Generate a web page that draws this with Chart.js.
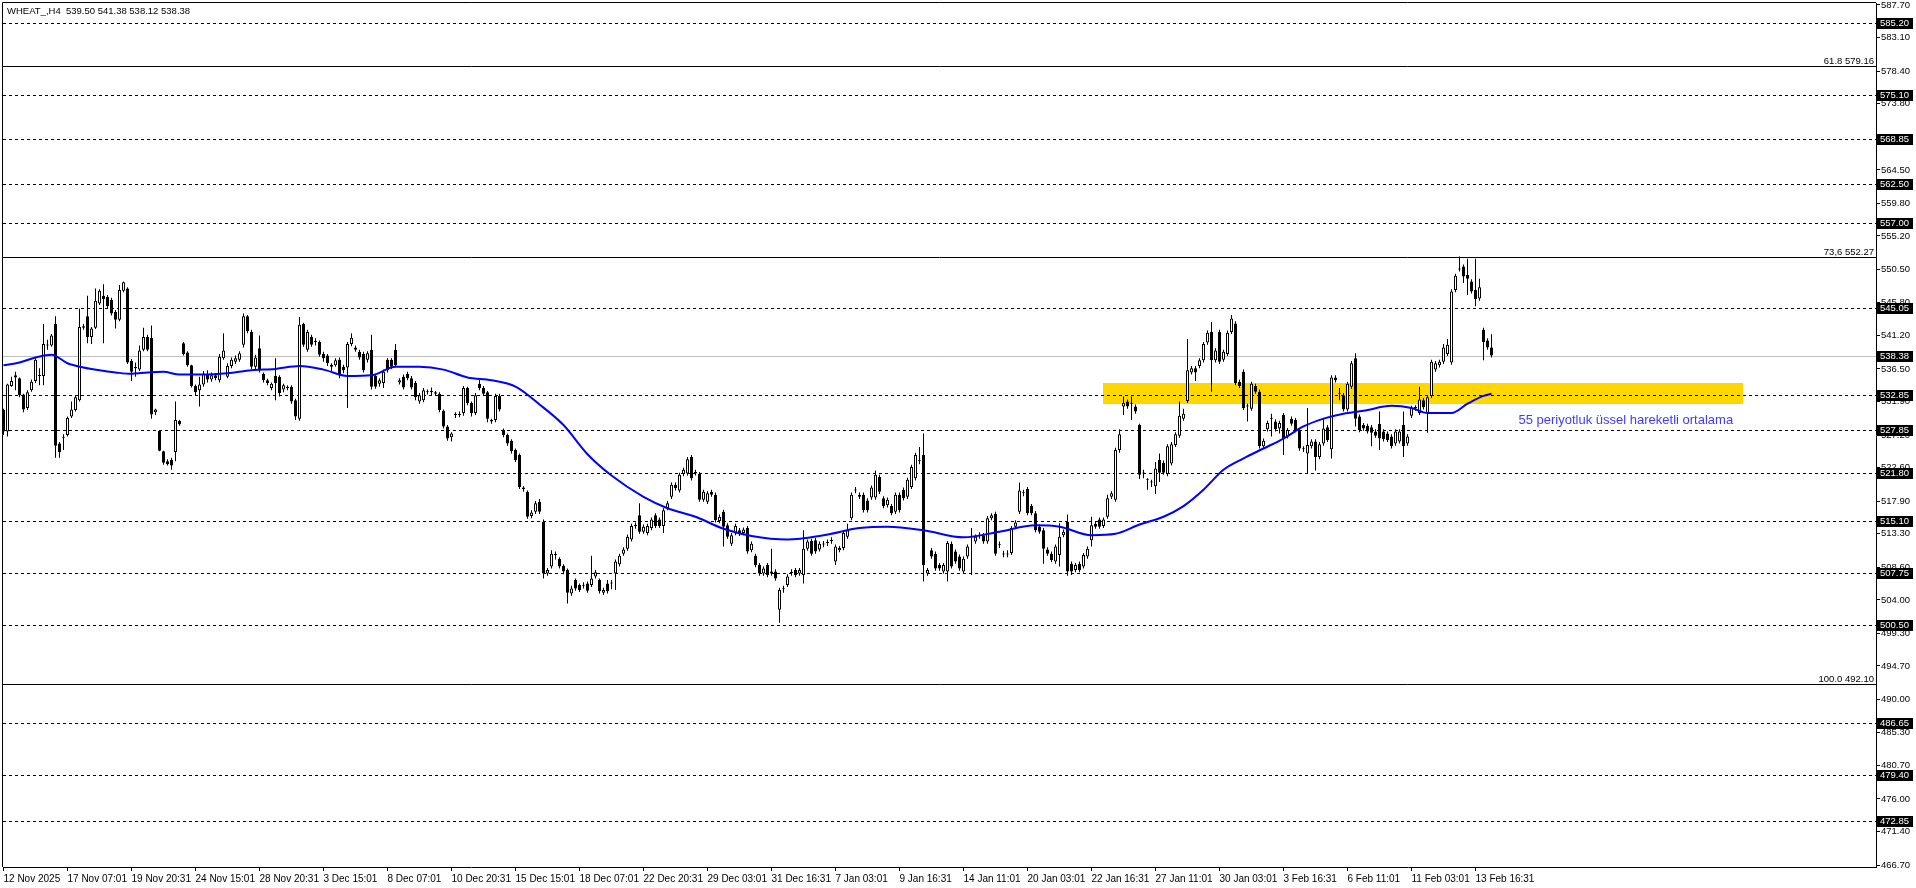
<!DOCTYPE html>
<html>
<head>
<meta charset="utf-8">
<title>WHEAT_,H4</title>
<script src="https://cdn.jsdelivr.net/npm/chart.js@4.4.1/dist/chart.umd.min.js"></script>
<style>
  html, body { margin: 0; padding: 0; background: #fff; }
  canvas { display: block; }
</style>
</head>
<body>
<canvas id="wheatChart" width="1916" height="888"></canvas>
<script>
// DATA

const symbol = 'WHEAT_,H4';

const timeLabels = ['12 Nov 2025', '17 Nov 07:01', '19 Nov 20:31', '24 Nov 15:01', '28 Nov 20:31',
    '3 Dec 15:01', '8 Dec 07:01', '10 Dec 20:31', '15 Dec 15:01', '18 Dec 07:01', '22 Dec 20:31',
    '29 Dec 03:01', '31 Dec 16:31', '7 Jan 03:01', '9 Jan 16:31', '14 Jan 11:01', '20 Jan 03:01',
    '22 Jan 16:31', '27 Jan 11:01', '30 Jan 03:01', '3 Feb 16:31', '6 Feb 11:01', '11 Feb 03:01',
    '13 Feb 16:31'];
const barsPerLabel = 16;

const opens = [
    530.7, 527.7, 534.1, 535.6, 535.2, 532.9, 531.0, 533.5, 534.8, 535.5,
    535.5, 539.9, 539.8, 542.8, 526.0, 526.8, 527.2, 529.8, 530.7, 532.1,
    542.3, 543.9, 541.0, 542.3, 545.7, 546.8, 546.6, 546.2, 544.5, 543.4,
    547.5, 547.8, 537.6, 536.8, 536.4, 539.2, 541.0, 540.9, 530.4, 527.8,
    524.9, 523.5, 523.7, 524.8, 529.2, 540.1, 538.8, 537.0, 534.1, 533.5,
    534.3, 535.8, 535.0, 535.6, 534.9, 538.0, 535.4, 536.9, 537.5, 537.8,
    539.9, 543.9, 541.7, 536.8, 539.4, 535.8, 534.9, 533.8, 535.5, 535.4,
    533.6, 534.0, 534.0, 532.1, 529.5, 542.8, 539.2, 541.0, 540.4, 540.3,
    538.6, 538.4, 537.1, 537.0, 537.8, 536.8, 536.7, 540.0, 539.5, 538.9,
    538.6, 537.8, 539.2, 535.5, 534.4, 534.5, 537.8, 537.8, 539.2, 534.6,
    535.4, 535.8, 535.2, 534.5, 531.9, 532.1, 533.3, 533.2, 533.2, 533.0,
    530.6, 528.4, 526.9, 530.0, 530.0, 530.3, 533.8, 531.7, 530.3, 534.4,
    533.8, 533.2, 529.3, 529.3, 532.7, 527.9, 527.2, 526.4, 525.1, 524.4,
    519.8, 519.2, 515.8, 516.4, 517.8, 515.0, 507.7, 508.7, 510.3, 509.8,
    508.8, 508.2, 504.9, 506.8, 506.1, 506.1, 506.3, 506.1, 507.3, 506.8,
    505.0, 506.3, 506.3, 507.7, 509.0, 510.5, 511.2, 512.5, 514.4, 515.9,
    513.6, 513.4, 514.1, 515.9, 515.3, 514.4, 516.9, 518.5, 520.2, 519.4,
    521.7, 521.8, 524.1, 521.8, 521.7, 518.1, 517.8, 519.2, 518.8, 515.1,
    516.4, 514.5, 511.9, 513.4, 513.8, 513.4, 514.1, 511.0, 510.2, 508.9,
    507.7, 508.9, 508.0, 508.0, 502.6, 505.5, 506.1, 507.8, 508.2, 507.7,
    507.5, 511.2, 512.3, 512.4, 511.1, 511.9, 512.0, 512.3, 509.4, 511.0,
    511.3, 512.9, 515.5, 519.4, 518.5, 518.8, 518.0, 518.4, 518.4, 521.3,
    518.3, 517.3, 517.2, 516.4, 518.8, 519.5, 518.5, 519.9, 521.1, 523.5,
    524.4, 507.7, 511.0, 510.5, 508.9, 508.0, 508.0, 511.9, 510.8, 510.1,
    508.0, 510.1, 513.0, 512.2, 513.0, 513.1, 512.2, 515.5, 516.1, 511.7,
    510.5, 510.4, 510.6, 514.3, 516.4, 519.0, 519.6, 517.2, 516.2, 514.3,
    513.8, 511.1, 510.5, 509.4, 510.3, 513.1, 515.0, 509.1, 508.2, 509.1,
    508.7, 510.1, 512.4, 514.7, 515.3, 514.4, 515.7, 518.5, 518.1, 525.1,
    531.2, 531.9, 531.7, 531.2, 528.6, 521.8, 520.9, 520.5, 520.0, 523.7,
    523.3, 521.7, 523.2, 525.8, 527.1, 529.5, 532.0, 536.0, 536.6, 536.9,
    537.7, 540.2, 541.7, 537.7, 541.7, 537.8, 538.6, 541.7, 542.9, 534.7,
    536.1, 531.2, 530.9, 534.1, 533.3, 525.6, 528.0, 529.5, 529.1, 528.1,
    530.0, 527.0, 529.5, 529.3, 527.9, 525.2, 524.6, 525.6, 526.3, 524.1,
    526.0, 528.3, 525.2, 535.3, 533.0, 532.8, 530.8, 534.0, 538.0, 529.8,
    528.6, 528.5, 528.3, 527.7, 528.8, 527.7, 527.4, 527.0, 526.0, 526.3,
    528.6, 526.0, 529.9, 531.0, 530.3, 532.1, 530.3, 532.7, 536.4, 537.0,
    537.5, 538.6, 537.4, 547.6, 550.5, 550.9, 549.7, 548.8, 547.6, 546.4,
    542.0, 540.5, 539.50
];

const highs = [
    530.9, 534.4, 535.4, 536.1, 535.3, 533.0, 533.5, 535.0, 538.0, 536.6,
    542.8, 540.6, 541.4, 543.9, 526.2, 527.3, 529.8, 531.9, 532.8, 545.0,
    542.8, 546.8, 542.4, 547.8, 547.7, 548.4, 546.9, 546.5, 544.8, 548.3,
    548.8, 548.0, 537.9, 537.4, 539.8, 542.3, 541.3, 542.6, 530.9, 527.8,
    525.0, 523.8, 524.0, 531.9, 529.3, 540.3, 539.0, 537.1, 534.3, 535.4,
    536.2, 536.3, 536.0, 535.9, 538.6, 541.5, 537.3, 538.1, 538.4, 539.0,
    544.3, 544.1, 542.0, 538.5, 541.2, 536.0, 535.1, 534.6, 538.0, 535.6,
    534.4, 534.2, 534.2, 532.3, 543.8, 543.0, 542.0, 541.3, 540.8, 540.5,
    538.9, 538.6, 537.3, 538.0, 538.1, 537.1, 540.3, 541.5, 539.8, 539.2,
    538.9, 539.0, 541.3, 535.8, 535.2, 536.4, 538.0, 538.0, 540.0, 535.2,
    535.7, 536.1, 535.5, 534.8, 533.1, 533.8, 533.6, 533.9, 533.4, 533.2,
    530.8, 528.6, 527.6, 530.4, 530.5, 534.1, 534.0, 531.9, 533.1, 535.0,
    534.1, 533.4, 529.5, 533.0, 533.0, 528.1, 527.4, 526.6, 525.3, 524.6,
    520.0, 519.4, 516.6, 517.9, 518.2, 515.3, 508.5, 511.0, 510.8, 510.0,
    509.0, 508.4, 506.0, 507.0, 506.3, 506.5, 506.6, 510.2, 508.2, 507.0,
    505.7, 506.8, 506.8, 509.7, 510.5, 511.4, 513.2, 514.7, 514.9, 517.6,
    514.6, 514.7, 515.6, 516.2, 515.6, 516.9, 517.9, 520.5, 520.5, 521.9,
    522.6, 524.1, 524.4, 522.3, 522.0, 519.5, 519.3, 519.5, 519.1, 516.0,
    516.7, 514.8, 513.4, 514.7, 514.1, 514.2, 514.4, 512.2, 510.5, 509.2,
    508.7, 509.2, 511.2, 508.3, 505.7, 506.0, 507.6, 508.3, 508.5, 508.5,
    513.8, 512.5, 512.6, 512.7, 512.2, 512.3, 512.5, 512.8, 511.8, 511.6,
    513.7, 514.7, 519.1, 519.9, 519.1, 519.1, 518.3, 520.1, 522.2, 521.6,
    518.6, 518.4, 517.5, 519.1, 519.1, 519.8, 521.2, 523.0, 524.7, 525.5,
    527.4, 508.5, 511.3, 510.8, 509.2, 509.2, 512.3, 512.2, 511.1, 510.4,
    510.1, 511.8, 514.1, 513.2, 513.5, 513.4, 515.8, 516.2, 516.4, 512.2,
    510.9, 511.0, 514.4, 515.2, 520.5, 519.5, 519.9, 517.5, 516.5, 514.6,
    514.1, 511.4, 510.8, 511.8, 514.8, 513.9, 516.0, 509.4, 509.2, 509.4,
    510.6, 511.5, 515.7, 515.0, 515.6, 515.6, 518.8, 519.3, 525.4, 528.0,
    532.6, 532.2, 532.6, 531.5, 528.8, 522.3, 521.1, 520.9, 523.4, 524.6,
    523.6, 525.9, 526.2, 527.6, 531.9, 530.9, 540.7, 536.9, 536.9, 538.0,
    540.3, 541.9, 543.1, 539.4, 542.0, 539.2, 541.9, 544.1, 543.2, 535.0,
    536.4, 531.6, 534.7, 534.4, 533.6, 526.7, 529.2, 530.2, 529.4, 529.2,
    530.3, 528.2, 529.8, 529.6, 528.2, 525.6, 531.0, 526.6, 526.6, 526.2,
    529.4, 528.6, 535.6, 535.6, 533.8, 533.1, 534.7, 537.6, 538.7, 530.1,
    528.9, 528.8, 528.6, 528.0, 530.5, 528.0, 527.7, 527.3, 528.0, 528.0,
    530.5, 527.3, 531.3, 531.4, 534.0, 532.4, 532.8, 537.8, 537.6, 537.8,
    540.0, 540.7, 547.7, 549.9, 552.3, 551.2, 552.0, 549.1, 552.0, 549.2,
    542.3, 540.8, 541.38
];

const lows = [
    527.2, 527.0, 534.0, 533.5, 532.5, 530.4, 530.7, 533.3, 534.5, 534.2,
    534.2, 539.2, 539.6, 524.0, 524.0, 525.1, 527.0, 529.6, 530.5, 531.9,
    542.0, 540.1, 540.0, 542.1, 545.5, 540.1, 545.0, 544.0, 542.2, 543.2,
    547.3, 537.2, 534.8, 535.4, 536.2, 539.0, 539.0, 529.5, 530.0, 524.9,
    523.0, 522.9, 522.3, 523.5, 528.5, 538.4, 536.8, 533.9, 532.7, 531.2,
    534.0, 534.6, 534.7, 534.9, 534.6, 537.8, 535.2, 536.6, 537.2, 537.5,
    539.5, 541.5, 536.5, 536.5, 536.0, 534.6, 534.2, 533.5, 532.1, 532.6,
    533.2, 533.5, 531.6, 529.3, 529.2, 539.6, 538.9, 539.6, 539.8, 538.2,
    537.5, 536.9, 536.2, 536.8, 535.2, 535.9, 531.0, 539.7, 538.9, 537.8,
    536.0, 537.4, 533.6, 533.7, 534.0, 533.8, 536.0, 536.5, 536.8, 534.3,
    533.6, 534.9, 533.6, 532.1, 531.6, 531.8, 532.9, 532.8, 532.7, 530.4,
    528.1, 526.4, 526.3, 529.6, 529.7, 529.9, 531.4, 529.8, 530.0, 533.5,
    532.7, 529.0, 528.8, 529.0, 530.5, 526.9, 525.7, 524.6, 523.4, 519.6,
    519.2, 515.4, 515.5, 516.1, 516.1, 507.0, 507.4, 508.4, 509.7, 508.4,
    507.6, 503.5, 504.6, 505.3, 505.1, 505.6, 505.0, 505.8, 507.0, 504.9,
    504.7, 504.9, 505.5, 505.4, 508.7, 510.2, 510.9, 512.2, 514.0, 513.3,
    513.3, 513.1, 513.8, 514.1, 514.1, 513.4, 516.6, 518.2, 519.4, 519.1,
    521.4, 521.5, 520.8, 521.5, 517.8, 517.8, 517.5, 518.5, 514.9, 514.8,
    511.5, 512.6, 511.6, 513.1, 513.0, 513.1, 510.5, 510.7, 508.6, 507.4,
    507.4, 507.2, 507.4, 506.7, 500.8, 505.0, 505.8, 507.4, 507.2, 507.4,
    506.3, 510.9, 510.2, 510.5, 510.8, 511.4, 511.6, 511.9, 508.9, 510.7,
    511.0, 512.6, 515.2, 519.0, 518.2, 516.3, 516.3, 518.1, 518.1, 518.9,
    516.9, 517.0, 515.9, 516.1, 516.3, 518.0, 518.2, 519.6, 520.8, 523.1,
    506.6, 507.4, 509.8, 508.1, 508.1, 507.7, 506.6, 508.4, 509.1, 508.1,
    507.7, 509.8, 507.5, 511.9, 512.6, 511.9, 511.9, 515.2, 510.2, 511.3,
    510.0, 510.0, 510.3, 514.0, 516.1, 518.6, 515.9, 515.9, 513.5, 513.3,
    509.1, 510.2, 509.3, 509.1, 508.7, 512.8, 507.4, 507.5, 507.9, 507.9,
    508.4, 509.8, 511.5, 514.0, 514.0, 514.1, 515.4, 518.2, 517.8, 524.7,
    530.0, 530.9, 529.3, 530.2, 521.0, 521.1, 519.5, 519.9, 518.9, 520.6,
    521.6, 521.4, 522.9, 525.5, 526.8, 529.2, 531.7, 535.7, 534.8, 536.6,
    537.4, 539.9, 533.3, 537.4, 537.2, 537.5, 538.3, 541.4, 534.2, 533.8,
    530.7, 529.1, 530.6, 533.0, 525.3, 525.3, 527.7, 527.0, 527.7, 527.4,
    524.4, 526.7, 528.5, 527.6, 525.0, 524.8, 521.8, 525.3, 522.2, 523.8,
    525.7, 526.2, 523.9, 534.6, 532.1, 530.5, 530.5, 533.7, 528.4, 527.6,
    527.8, 527.4, 525.6, 526.8, 525.1, 526.3, 526.2, 525.3, 525.7, 526.0,
    524.1, 525.7, 529.6, 530.6, 530.0, 530.8, 527.5, 532.4, 536.1, 536.7,
    537.2, 538.3, 537.1, 547.3, 550.2, 548.6, 546.9, 547.1, 545.3, 546.1,
    537.7, 539.2, 538.12
];

const closes = [
    527.7, 534.3, 534.8, 535.3, 532.8, 530.8, 533.2, 534.7, 537.8, 535.6,
    540.0, 539.8, 541.2, 525.7, 524.8, 526.8, 529.6, 530.8, 532.5, 542.4,
    542.5, 541.0, 542.2, 546.1, 547.5, 546.3, 545.3, 544.3, 543.4, 547.6,
    548.7, 537.4, 536.1, 536.6, 539.1, 541.0, 539.2, 530.1, 530.8, 525.0,
    523.3, 523.1, 522.9, 529.3, 528.7, 538.6, 537.0, 534.1, 533.2, 534.3,
    535.8, 535.0, 535.6, 535.2, 538.2, 539.1, 536.9, 537.8, 538.0, 538.7,
    543.9, 541.8, 536.8, 538.1, 536.3, 534.9, 534.5, 534.4, 534.5, 533.1,
    534.2, 533.8, 531.9, 529.8, 542.7, 539.9, 541.7, 539.9, 540.3, 538.5,
    538.0, 537.3, 536.8, 537.7, 535.6, 536.3, 540.0, 540.9, 539.2, 538.1,
    536.3, 538.7, 534.0, 534.0, 534.9, 536.1, 536.3, 536.8, 537.0, 534.9,
    533.9, 535.2, 533.9, 532.5, 532.8, 533.5, 533.2, 533.4, 533.0, 530.7,
    528.4, 526.7, 527.4, 530.1, 530.1, 533.8, 531.7, 530.3, 532.8, 533.8,
    533.0, 529.5, 529.1, 532.7, 530.8, 527.2, 526.0, 524.9, 523.7, 519.9,
    519.6, 515.7, 516.3, 517.6, 516.4, 507.7, 508.2, 510.5, 510.3, 508.7,
    508.0, 505.0, 505.6, 505.6, 505.4, 506.0, 505.3, 507.0, 507.9, 505.2,
    505.4, 505.2, 506.3, 509.4, 510.2, 511.1, 512.9, 514.4, 514.4, 513.6,
    514.3, 514.4, 515.3, 514.4, 514.4, 516.6, 517.6, 520.2, 519.7, 521.6,
    522.3, 523.8, 521.1, 522.0, 518.1, 519.2, 519.0, 518.8, 515.2, 515.7,
    514.3, 512.9, 513.1, 514.4, 513.3, 513.9, 510.8, 511.9, 508.9, 507.7,
    508.4, 507.5, 507.7, 507.0, 505.4, 505.5, 507.3, 507.8, 507.5, 508.2,
    511.2, 512.2, 510.5, 510.8, 511.9, 511.8, 512.0, 512.3, 511.5, 511.3,
    513.4, 513.8, 518.8, 519.4, 518.8, 516.6, 516.6, 519.8, 521.6, 519.2,
    517.2, 518.1, 516.2, 518.8, 516.6, 518.3, 520.9, 522.7, 524.4, 523.5,
    508.9, 508.2, 510.1, 508.4, 508.4, 508.9, 512.0, 508.7, 509.4, 508.4,
    509.8, 511.5, 512.9, 512.9, 513.0, 512.2, 515.5, 515.9, 510.5, 511.7,
    510.4, 510.5, 514.1, 514.9, 519.4, 519.0, 516.2, 516.2, 513.8, 513.6,
    511.2, 510.5, 509.6, 511.5, 512.9, 513.6, 508.0, 508.0, 508.9, 508.2,
    510.3, 511.2, 514.5, 514.3, 514.3, 515.3, 518.3, 519.0, 525.1, 527.3,
    531.7, 531.2, 531.6, 530.5, 521.6, 521.8, 520.9, 520.5, 522.5, 521.9,
    521.9, 525.6, 525.9, 527.3, 529.9, 530.2, 536.3, 536.6, 536.0, 537.7,
    540.0, 541.6, 537.7, 539.1, 537.5, 538.9, 541.6, 543.6, 534.5, 534.1,
    531.0, 531.2, 534.4, 533.3, 525.6, 526.4, 528.9, 529.5, 528.0, 528.9,
    526.7, 527.9, 528.8, 527.9, 525.3, 525.2, 525.8, 526.3, 524.1, 525.9,
    528.1, 526.5, 535.3, 534.9, 533.0, 530.8, 534.4, 537.3, 529.5, 527.9,
    528.1, 527.7, 527.5, 527.1, 526.7, 526.6, 526.5, 525.6, 527.7, 527.7,
    525.6, 527.0, 531.0, 531.0, 532.2, 531.1, 532.5, 537.5, 537.3, 537.5,
    539.5, 539.9, 547.4, 549.6, 550.5, 549.5, 549.2, 547.4, 546.3, 548.0,
    540.3, 539.5, 538.38
];

// 55 period EMA at these bars
const emaBars = [0, 4, 8, 12, 16, 20, 24, 28, 32, 36, 40, 44, 50, 56, 62, 68, 74, 80, 86, 92,
    98, 104, 110, 116, 122, 128, 134, 140, 146, 152, 160, 166, 173, 180, 187, 196, 205, 214, 221,
    230, 240, 249, 258, 264, 272, 278, 284, 290, 295, 300, 305, 310, 315, 320, 325, 330, 335, 340,
    347, 352, 356, 362, 366, 370, 372];
const emaValues = [537.0, 537.4, 538.1, 538.5, 537.3, 536.7, 536.3, 536.0, 535.8, 536.0, 536.1,
    535.7, 535.7, 535.9, 536.3, 536.5, 536.9, 536.4, 535.5, 535.6, 536.8, 536.8, 536.4, 535.3,
    534.9, 534.0, 531.5, 528.6, 524.5, 521.5, 518.5, 516.9, 515.7, 514.0, 513.0, 512.5, 513.1,
    514.1, 514.3, 513.8, 512.8, 513.6, 514.5, 514.3, 513.1, 513.3, 514.6, 515.7, 517.2, 519.5,
    522.3, 523.9, 525.3, 526.7, 528.4, 529.5, 530.2, 530.6, 531.3, 531.0, 530.3, 530.3, 531.6,
    532.7, 533.0];

const priceTicks = [587.70, 583.10, 578.40, 573.80, 569.10, 564.50, 559.80, 555.20, 550.50,
    545.80, 541.20, 536.50, 531.90, 527.20, 522.60, 517.90, 513.30, 508.60, 504.00, 499.30,
    494.70, 490.00, 485.30, 480.70, 476.00, 471.40, 466.70];

const levelLines = [585.20, 575.10, 568.85, 562.50, 557.00, 545.05, 532.85, 527.85, 521.80,
    515.10, 507.75, 500.50, 486.65, 479.40, 472.85];
const fibNames = ['61.8', '73,6', '100.0'];
const fibPrices = [579.16, 552.27, 492.10];
const lastPrice = 538.38;

const zoneBars = [274.9, 434.9];
const zonePrices = [531.6, 534.5];
const emaNote = '55 periyotluk üssel hareketli ortalama';
const emaNoteBar = 378.75;
const emaNotePrice = 529.3;

// DRAWING

const fontFamily = '"Liberation Sans", Arial, sans-serif';

function hLine(ctx, area, py) {
    ctx.beginPath();
    ctx.moveTo(area.left, py);
    ctx.lineTo(area.right, py);
    ctx.stroke();
}

const overlay = {
    id: 'overlay',
    beforeDatasetsDraw(chart) {
        const ctx = chart.ctx;
        const area = chart.chartArea;
        const x = chart.scales.x;
        const y = chart.scales.y;
        ctx.save();

        // yellow zone
        const zx1 = Math.round(x.getPixelForValue(zoneBars[0]));
        const zx2 = Math.round(x.getPixelForValue(zoneBars[1]));
        const zy1 = Math.round(y.getPixelForValue(zonePrices[1]));
        const zy2 = Math.round(y.getPixelForValue(zonePrices[0]));
        ctx.fillStyle = '#FFD700';
        ctx.fillRect(zx1, zy1, zx2 - zx1, zy2 - zy1);

        ctx.lineWidth = 1;

        // current price
        ctx.strokeStyle = '#C0C0C0';
        hLine(ctx, area, Math.round(y.getPixelForValue(lastPrice)) + 0.5);

        // dashed levels
        ctx.strokeStyle = '#000';
        ctx.setLineDash([3, 3]);
        levelLines.forEach(v => hLine(ctx, area, Math.round(y.getPixelForValue(v)) + 0.5));
        ctx.setLineDash([]);

        // fibo levels
        ctx.fillStyle = '#000';
        ctx.font = '9.5px ' + fontFamily;
        ctx.textAlign = 'right';
        ctx.textBaseline = 'alphabetic';
        fibPrices.forEach((v, k) => {
            const py = Math.round(y.getPixelForValue(v)) + 0.5;
            hLine(ctx, area, py);
            ctx.fillText(fibNames[k] + ' ' + v.toFixed(2), area.right - 2, py - 2.5);
        });

        ctx.restore();
    },
    afterDraw(chart) {
        const ctx = chart.ctx;
        const area = chart.chartArea;
        const x = chart.scales.x;
        const y = chart.scales.y;
        ctx.save();

        // frame
        ctx.strokeStyle = '#000';
        ctx.lineWidth = 1;
        ctx.beginPath();
        ctx.moveTo(area.left - 0.5, area.bottom);
        ctx.lineTo(area.left - 0.5, area.top - 0.5);
        ctx.lineTo(area.right, area.top - 0.5);
        ctx.stroke();

        // price tags on the axis
        ctx.font = '9.5px ' + fontFamily;
        ctx.textAlign = 'left';
        ctx.textBaseline = 'middle';
        levelLines.concat([lastPrice]).forEach(v => {
            const py = Math.round(y.getPixelForValue(v));
            ctx.fillStyle = '#000';
            ctx.fillRect(area.right + 1, py - 5, 36, 11);
            ctx.fillStyle = '#fff';
            ctx.fillText(v.toFixed(2), area.right + 4, py + 0.5);
        });

        // EMA note
        ctx.fillStyle = '#3c3cff';
        ctx.font = '13px ' + fontFamily;
        ctx.fillText(emaNote, x.getPixelForValue(emaNoteBar), y.getPixelForValue(emaNotePrice));

        // title
        const last = opens.length - 1;
        const ohlc = [opens[last], highs[last], lows[last], closes[last]].map(v => v.toFixed(2)).join(' ');
        ctx.fillStyle = '#000';
        ctx.font = '9.5px ' + fontFamily;
        ctx.textBaseline = 'top';
        ctx.fillText(symbol + '  ' + ohlc, 7, 7);

        ctx.restore();
    }
};

new Chart(document.getElementById('wheatChart'), {
    type: 'bar',
    data: {
        datasets: [
            {
                type: 'line',
                label: 'EMA 55',
                data: emaBars.map((b, k) => ({ x: b, y: emaValues[k] })),
                borderColor: '#0000FF',
                borderWidth: 2,
                pointRadius: 0,
                cubicInterpolationMode: 'monotone',
                order: 0
            },
            {
                label: 'body',
                data: opens.map((o, i) => ({ x: i, y: [o, closes[i]] })),
                backgroundColor: c => closes[c.dataIndex] >= opens[c.dataIndex] ? '#FFFFFF' : '#000000',
                borderColor: '#000000',
                borderWidth: 1,
                borderSkipped: false,
                barThickness: 3,
                minBarLength: 1,
                grouped: false,
                inflateAmount: 0,
                order: 1
            },
            {
                label: 'wick',
                data: highs.map((h, i) => ({ x: i, y: [lows[i], h] })),
                backgroundColor: '#000000',
                borderWidth: 0,
                barThickness: 1,
                minBarLength: 1,
                grouped: false,
                inflateAmount: 0,
                order: 2
            }
        ]
    },
    options: {
        responsive: false,
        animation: false,
        devicePixelRatio: 1,
        layout: { padding: { left: 3, top: 3, right: 0, bottom: 0 } },
        plugins: {
            legend: { display: false },
            tooltip: { enabled: false }
        },
        scales: {
            x: {
                type: 'linear',
                min: -0.125,
                max: 468.125,
                offset: false,
                afterBuildTicks: s => {
                    s.ticks = timeLabels.map((t, k) => ({ value: k * barsPerLabel }));
                },
                afterFit: s => {
                    s.height = 21;
                    s.paddingLeft = 0;
                    s.paddingRight = 0;
                },
                grid: { drawOnChartArea: false, drawTicks: true, tickLength: 4, color: '#000', offset: false },
                border: { display: true, color: '#000' },
                ticks: {
                    autoSkip: false,
                    maxRotation: 0,
                    minRotation: 0,
                    align: 'start',
                    padding: 2,
                    color: '#000',
                    font: { family: fontFamily, size: 10 },
                    callback: (v, i) => timeLabels[i]
                }
            },
            y: {
                type: 'linear',
                position: 'right',
                min: 466.42,
                max: 587.98,
                afterBuildTicks: s => {
                    s.ticks = priceTicks.map(v => ({ value: v }));
                },
                afterFit: s => {
                    s.width = 40;
                    s.paddingTop = 0;
                    s.paddingBottom = 0;
                },
                grid: { drawOnChartArea: false, drawTicks: true, tickLength: 4, color: '#000' },
                border: { display: true, color: '#000' },
                ticks: {
                    autoSkip: false,
                    padding: 1,
                    color: '#000',
                    font: { family: fontFamily, size: 9.5 },
                    callback: v => v.toFixed(2)
                }
            }
        }
    },
    plugins: [overlay]
});
</script>
</body>
</html>
